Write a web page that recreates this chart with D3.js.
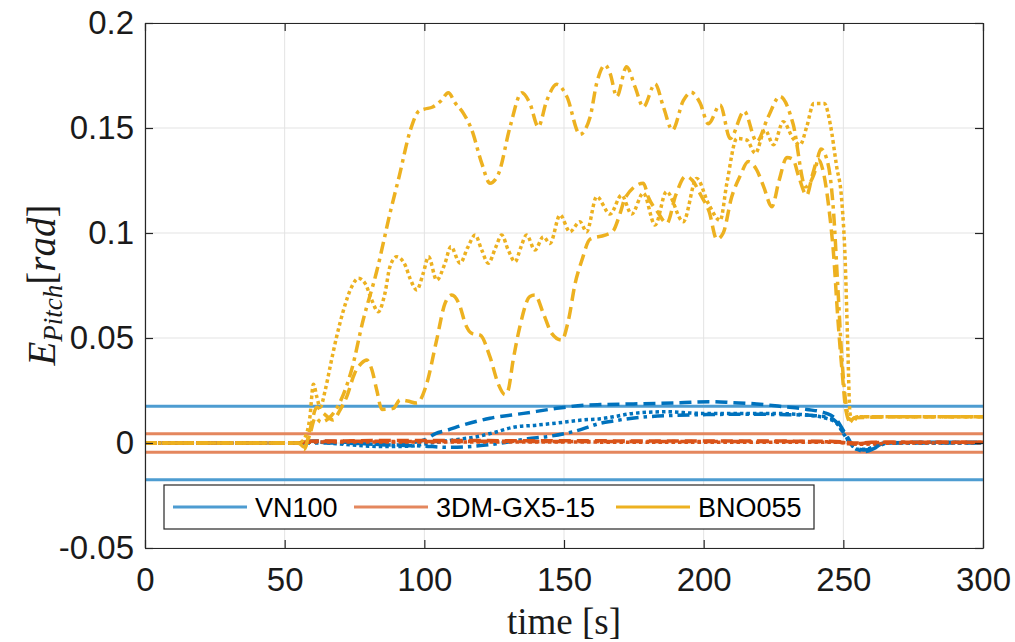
<!DOCTYPE html>
<html>
<head>
<meta charset="utf-8">
<script src="https://cdn.jsdelivr.net/npm/d3@7"></script>
<style>
  html, body { margin: 0; padding: 0; background: #fff; }
  svg { display: block; }
</style>
</head>
<body>
<svg id="chart" width="1015" height="642"></svg>
<script>
// ---- Axis ticks ----
const xTicks = [0, 50, 100, 150, 200, 250, 300];
const yTicks = [-0.05, 0, 0.05, 0.1, 0.15, 0.2];
const yTickLabels = ["-0.05", "0", "0.05", "0.1", "0.15", "0.2"];

// ---- Sensor names (legend) ----
const sensors = ["VN100", "3DM-GX5-15", "BNO055"];

// ---- Accuracy bounds [rad] ----
const vnBound = 0.0175;
const dmBound = 0.0044;

// ---- VN100 pitch error ----
const vnDashedT = [0, 30, 55, 60, 70, 80, 90, 95, 100, 104, 108, 114, 123.5, 135.5, 147.4, 157, 163, 174.8, 191.6, 202.3, 210.6, 219, 228.5, 236.9, 244, 247.6, 249.9, 251.8, 253.6, 257.3, 260.9, 264.5, 275, 300];
const vnDashedV = [0, 0, 0, 0.001, 0.0005, -0.0005, -0.001, 0, 0.0015, 0.0045, 0.006, 0.0086, 0.0118, 0.0141, 0.0165, 0.018, 0.0183, 0.0186, 0.0192, 0.0197, 0.0192, 0.0186, 0.0173, 0.016, 0.0141, 0.011, 0.0062, 0.0022, -0.0017, -0.0033, -0.0025, 0, 0.0003, 0.0003];

const vnDottedT = [0, 55, 60, 70, 80, 87.7, 95, 100, 105.6, 112, 118.8, 125, 131.9, 140, 147.4, 157, 163, 167.7, 174.8, 186.8, 198.7, 210.6, 222.6, 234.5, 244, 247.6, 250, 252.4, 255, 258, 262, 266, 300];
const vnDottedV = [0, 0, 0.0005, -0.0005, -0.0015, -0.0017, -0.0015, -0.0005, 0.0006, 0.0017, 0.003, 0.005, 0.0075, 0.0085, 0.0095, 0.011, 0.0115, 0.0125, 0.0141, 0.0149, 0.0141, 0.0141, 0.0141, 0.0136, 0.0117, 0.0094, 0.0046, 0, -0.003, -0.003, -0.001, 0, 0];

const vnDashDotT = [0, 55, 60, 70, 80, 90, 100, 108, 115, 122, 130, 137, 143.8, 155, 163, 167.7, 173.7, 180, 190, 200, 215, 230, 240, 244, 247.5, 250, 252.5, 255, 258, 262, 266, 300];
const vnDashDotV = [0, 0, 0, 0, -0.0005, -0.001, -0.0015, -0.002, -0.0018, -0.001, 0.0005, 0.002, 0.003, 0.006, 0.0094, 0.0105, 0.0117, 0.0125, 0.0132, 0.0135, 0.0137, 0.0135, 0.013, 0.0125, 0.01, 0.005, 0, -0.003, -0.004, -0.002, 0, 0];

// ---- 3DM-GX5-15 pitch error ----
const dmDashedT = [0, 55, 58, 70, 90, 110, 130, 150, 170, 190, 210, 230, 245, 250, 255, 260, 280, 300];
const dmDashedV = [0, 0, 0.0008, 0.001, 0.0012, 0.0012, 0.0011, 0.0011, 0.001, 0.001, 0.001, 0.0009, 0.0008, 0.0005, 0, 0.0003, 0.0003, 0.0003];

const dmDottedT = [0, 55, 58, 80, 110, 140, 170, 200, 230, 248, 252, 256, 270, 300];
const dmDottedV = [0, 0, 0.0004, 0.0005, 0.0005, 0.0005, 0.0004, 0.0004, 0.0004, 0.0003, -0.0004, -0.0006, 0, 0.0001];

const dmDashDotT = [0, 55, 58, 75, 100, 125, 150, 175, 200, 225, 245, 250, 254, 258, 270, 300];
const dmDashDotV = [0, 0, 0.0006, 0.0008, 0.0007, 0.0008, 0.0007, 0.0007, 0.0007, 0.0007, 0.0006, 0.0002, -0.0004, 0, 0.0004, 0.0004];

// ---- BNO055 pitch error ----
const bnoDashDotT = [0, 20, 40, 55, 57, 59, 61, 63, 66, 70, 74, 78, 83, 88, 91, 95, 98, 100, 103, 106, 108.6, 111, 114, 117, 120.6, 123.5, 126.5, 130.7, 134.9, 137.8, 140.8, 143.8, 147.4, 151, 155.7, 159.3, 161.7, 164.7, 166.5, 168.9, 172.4, 175.4, 178.4, 182.6, 185.6, 188.8, 192.7, 195.5, 198.7, 201.7, 205.9, 209.5, 214.5, 219, 223, 227.3, 232, 236.5, 239.5, 242, 244.5, 246.5, 248, 249.5, 251, 252.5, 255, 270, 300];
const bnoDashDotV = [0, 0, 0, 0, -0.002, 0.004, 0.012, 0.01, 0.012, 0.02, 0.035, 0.058, 0.082, 0.111, 0.127, 0.149, 0.158, 0.159, 0.16, 0.163, 0.1668, 0.162, 0.157, 0.149, 0.133, 0.1237, 0.128, 0.1506, 0.1668, 0.1617, 0.1506, 0.163, 0.1708, 0.165, 0.147, 0.155, 0.1713, 0.18, 0.176, 0.165, 0.1792, 0.1697, 0.16, 0.171, 0.16, 0.149, 0.163, 0.167, 0.162, 0.152, 0.161, 0.145, 0.158, 0.1435, 0.155, 0.165, 0.152, 0.122, 0.128, 0.14, 0.133, 0.11, 0.075, 0.04, 0.018, 0.011, 0.0125, 0.0125, 0.0125];

const bnoDottedT = [0, 20, 40, 55, 57, 59, 60.3, 61.5, 62.7, 64.5, 66.3, 68.6, 71, 74, 76.4, 78.8, 81.2, 83.5, 85.9, 87.7, 90.1, 93.1, 95, 97.3, 99.6, 101.5, 104.4, 107.4, 109.5, 112.8, 115.5, 118.2, 120.5, 122.9, 125.5, 127.7, 130, 132.5, 134.5, 136.6, 139.6, 142.6, 145, 148.6, 152.1, 155.7, 158.1, 161.7, 166.5, 170.6, 174.2, 178.4, 182.6, 186.7, 192.7, 197.5, 201.7, 205.9, 208.3, 211.9, 215.4, 218.5, 222, 225, 228.5, 232, 234.5, 236.9, 239.4, 243.2, 245.3, 247.6, 249.4, 250.7, 251.5, 252.4, 253.5, 255, 270, 300];
const bnoDottedV = [0, 0, 0, 0, 0.002, 0.012, 0.028, 0.022, 0.017, 0.025, 0.0365, 0.0506, 0.063, 0.0744, 0.0784, 0.076, 0.068, 0.0625, 0.0713, 0.084, 0.0887, 0.0848, 0.078, 0.0729, 0.0808, 0.0887, 0.0776, 0.0856, 0.0935, 0.0856, 0.093, 0.099, 0.092, 0.0856, 0.093, 0.099, 0.092, 0.0863, 0.093, 0.099, 0.0919, 0.0982, 0.095, 0.1086, 0.1006, 0.1054, 0.1006, 0.1173, 0.109, 0.118, 0.109, 0.119, 0.1038, 0.1197, 0.1054, 0.126, 0.114, 0.106, 0.1237, 0.145, 0.1443, 0.138, 0.149, 0.142, 0.153, 0.145, 0.142, 0.1506, 0.1617, 0.1617, 0.152, 0.1317, 0.116, 0.0856, 0.05, 0.014, 0.01, 0.0125, 0.0125, 0.0125];

const bnoDashedT = [0, 20, 40, 55, 57, 59, 61.5, 64, 67.4, 69.8, 72.2, 75, 77.5, 79.4, 81.2, 83, 84.8, 88.9, 91.3, 94, 97.3, 100.8, 104.4, 107.4, 109.8, 112.8, 114.6, 117, 120, 123.5, 126.5, 128.9, 130, 131.8, 134.2, 137.8, 139.6, 142.6, 145.6, 149.2, 151.6, 154, 156.4, 159.3, 164.7, 167.6, 170, 172, 178.4, 180.2, 183.5, 186.8, 190, 193.5, 196, 199, 202, 204.7, 207, 210, 213, 216, 219, 221.5, 224.4, 227, 229.8, 232, 234, 236.9, 239, 241, 243, 245, 246.5, 248, 249.5, 251, 252.5, 254, 270, 300];
const bnoDashedV = [0, 0, 0, 0, -0.003, 0.006, 0.017, 0.014, 0.011, 0.0157, 0.022, 0.033, 0.038, 0.0395, 0.035, 0.025, 0.016, 0.0165, 0.0205, 0.02, 0.019, 0.028, 0.049, 0.0665, 0.0705, 0.065, 0.057, 0.0522, 0.0514, 0.041, 0.028, 0.023, 0.025, 0.0395, 0.0554, 0.0698, 0.0705, 0.0617, 0.0522, 0.049, 0.0586, 0.076, 0.087, 0.097, 0.099, 0.101, 0.109, 0.117, 0.1237, 0.117, 0.11, 0.1046, 0.118, 0.127, 0.125, 0.118, 0.11, 0.097, 0.1, 0.117, 0.127, 0.134, 0.13, 0.122, 0.1125, 0.125, 0.136, 0.135, 0.127, 0.118, 0.128, 0.135, 0.128, 0.11, 0.09, 0.06, 0.035, 0.015, 0.01, 0.012, 0.0125, 0.0125];

// ---- Layout ----
const plot = { left: 145, right: 983, top: 23, bottom: 548 };

const colors = {
  vn: "#0072BD", dm: "#D95319", bno: "#EDB120",
  vnBound: "#4D9CD1", dmBound: "#E4875E", bnoLegend: "#EDB120"
};
const dash = { dashed: "12,6", dotted: "3.5,3", dashdot: "12,5,3.5,5" };

const svg = d3.select("#chart");
const x = d3.scaleLinear().domain([0, 300]).range([plot.left, plot.right]);
const y = d3.scaleLinear().domain([-0.05, 0.2]).range([plot.bottom, plot.top]);

// Grid
const grid = svg.append("g").attr("stroke", "#e3e3e3").attr("stroke-width", 1);
grid.selectAll("line.gx").data(xTicks).join("line")
  .attr("x1", d => x(d)).attr("x2", d => x(d))
  .attr("y1", plot.top).attr("y2", plot.bottom);
grid.selectAll("line.gy").data(yTicks).join("line")
  .attr("x1", plot.left).attr("x2", plot.right)
  .attr("y1", d => y(d)).attr("y2", d => y(d));

// Clip to plotting area
svg.append("clipPath").attr("id", "clip").append("rect")
  .attr("x", plot.left).attr("y", plot.top)
  .attr("width", plot.right - plot.left).attr("height", plot.bottom - plot.top);
const area = svg.append("g").attr("clip-path", "url(#clip)");

// Accuracy bounds
const bounds = [
  { v: vnBound, c: colors.vnBound }, { v: -vnBound, c: colors.vnBound },
  { v: dmBound, c: colors.dmBound }, { v: -dmBound, c: colors.dmBound }
];
area.selectAll("line.bound").data(bounds).join("line")
  .attr("x1", x(0)).attr("x2", x(300))
  .attr("y1", d => y(d.v)).attr("y2", d => y(d.v))
  .attr("stroke", d => d.c).attr("stroke-width", 3);

// Error series
const series = [
  { t: vnDashedT, v: vnDashedV, c: colors.vn, d: dash.dashed },
  { t: vnDottedT, v: vnDottedV, c: colors.vn, d: dash.dotted },
  { t: vnDashDotT, v: vnDashDotV, c: colors.vn, d: dash.dashdot },
  { t: dmDashedT, v: dmDashedV, c: colors.dm, d: dash.dashed },
  { t: dmDottedT, v: dmDottedV, c: colors.dm, d: dash.dotted },
  { t: dmDashDotT, v: dmDashDotV, c: colors.dm, d: dash.dashdot },
  { t: bnoDashedT, v: bnoDashedV, c: colors.bno, d: dash.dashed },
  { t: bnoDottedT, v: bnoDottedV, c: colors.bno, d: dash.dotted },
  { t: bnoDashDotT, v: bnoDashDotV, c: colors.bno, d: dash.dashdot }
];
const line = d3.line().x(d => x(d[0])).y(d => y(d[1])).curve(d3.curveMonotoneX);
area.selectAll("path.err").data(series).join("path")
  .attr("fill", "none")
  .attr("stroke", s => s.c)
  .attr("stroke-width", 3.5)
  .attr("stroke-dasharray", s => s.d)
  .attr("d", s => line(s.t.map((t, i) => [t, s.v[i]])));

// Axes box and ticks
const axisColor = "#262626";
const font = "'Liberation Sans', Arial, Helvetica, sans-serif";
const xAxis = svg.append("g").attr("transform", `translate(0,${plot.bottom})`)
  .call(d3.axisBottom(x).tickValues(xTicks).tickSizeInner(-8).tickSizeOuter(0).tickPadding(20));
const xAxisTop = svg.append("g").attr("transform", `translate(0,${plot.top})`)
  .call(d3.axisTop(x).tickValues(xTicks).tickSizeInner(-8).tickSizeOuter(0).tickFormat(""));
const yAxis = svg.append("g").attr("transform", `translate(${plot.left},0)`)
  .call(d3.axisLeft(y).tickValues(yTicks).tickSizeInner(-8).tickSizeOuter(0).tickPadding(11)
    .tickFormat((d, i) => yTickLabels[i]));
const yAxisRight = svg.append("g").attr("transform", `translate(${plot.right},0)`)
  .call(d3.axisRight(y).tickValues(yTicks).tickSizeInner(-8).tickSizeOuter(0).tickFormat(""));
[xAxis, xAxisTop, yAxis, yAxisRight].forEach(g => {
  g.select(".domain").attr("stroke", axisColor).attr("stroke-width", 1.2);
  g.selectAll(".tick line").attr("stroke", axisColor).attr("stroke-width", 1.2);
  g.selectAll(".tick text").attr("fill", "#1a1a1a")
    .style("font-family", font).style("font-size", "33px");
});

// Axis labels
svg.append("text")
  .attr("x", (plot.left + plot.right) / 2).attr("y", 634)
  .attr("text-anchor", "middle")
  .style("font-family", "'Liberation Serif', 'Times New Roman', serif")
  .style("font-size", "37px").attr("fill", "#1a1a1a")
  .text("time [s]");

const yl = svg.append("text")
  .attr("transform", "translate(55,285) rotate(-90)")
  .attr("text-anchor", "middle")
  .style("font-family", "'Liberation Serif', 'Times New Roman', serif")
  .style("font-size", "39px").attr("fill", "#1a1a1a");
yl.append("tspan").style("font-style", "italic").text("E");
yl.append("tspan").style("font-style", "italic").style("font-size", "27px").attr("dy", 7).text("Pitch");
yl.append("tspan").attr("dy", -7).text("[");
yl.append("tspan").style("font-style", "italic").text("rad");
yl.append("tspan").text("]");

// Legend
const legend = svg.append("g");
legend.append("rect")
  .attr("x", 164).attr("y", 485).attr("width", 650).attr("height", 44)
  .attr("fill", "#fff").attr("stroke", axisColor).attr("stroke-width", 1.2);
const legendItems = [
  { name: sensors[0], c: colors.vnBound, x0: 173, tx: 255 },
  { name: sensors[1], c: colors.dmBound, x0: 354, tx: 436 },
  { name: sensors[2], c: colors.bnoLegend, x0: 616, tx: 698 }
];
const li = legend.selectAll("g.item").data(legendItems).join("g");
li.append("line")
  .attr("x1", d => d.x0).attr("x2", d => d.x0 + 74)
  .attr("y1", 507).attr("y2", 507)
  .attr("stroke", d => d.c).attr("stroke-width", 3);
li.append("text")
  .attr("x", d => d.tx).attr("y", 517)
  .style("font-family", font).style("font-size", "27px").attr("fill", "#000")
  .text(d => d.name);
</script>
</body>
</html>
